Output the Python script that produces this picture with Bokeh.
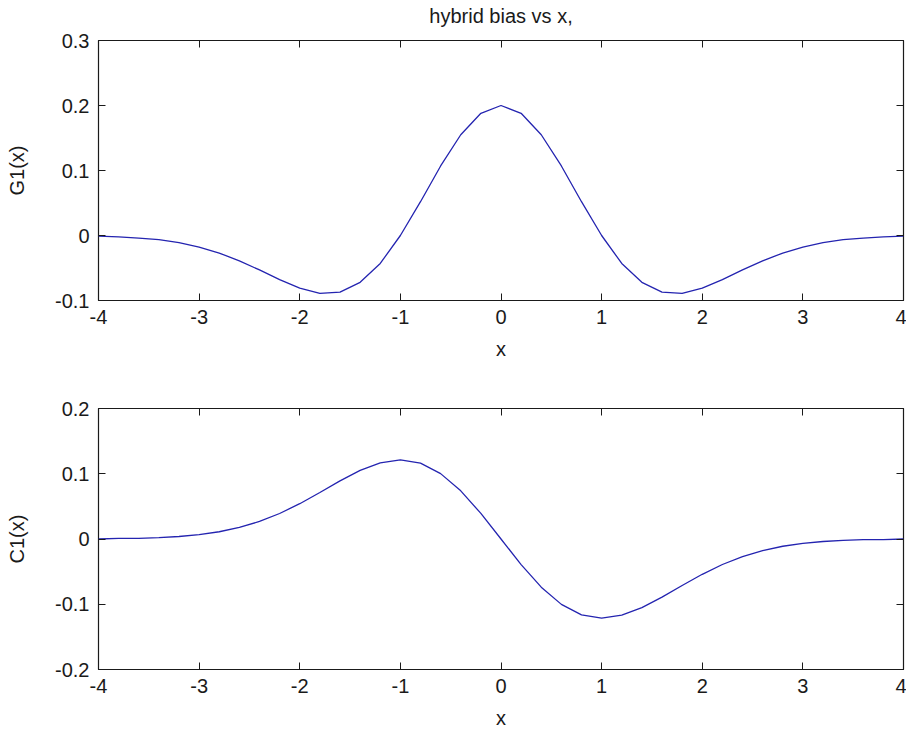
from bokeh.plotting import figure
from bokeh.layouts import column
from bokeh.models import LinearAxis, FixedTicker, Range1d
from bokeh.embed import file_html
from bokeh.resources import INLINE

# sample positions
x_vals = [-4.0, -3.8, -3.6, -3.4, -3.2, -3.0, -2.8, -2.6, -2.4, -2.2, -2.0,
          -1.8, -1.6, -1.4, -1.2, -1.0, -0.8, -0.6, -0.4, -0.2, 0.0,
          0.2, 0.4, 0.6, 0.8, 1.0, 1.2, 1.4, 1.6, 1.8, 2.0,
          2.2, 2.4, 2.6, 2.8, 3.0, 3.2, 3.4, 3.6, 3.8, 4.0]

# G1(x): symmetric bias term
g1_vals = [-0.001, -0.002, -0.004, -0.0065, -0.011, -0.018, -0.027, -0.039, -0.053, -0.068, -0.081,
           -0.089, -0.087, -0.072, -0.043, 0.000, 0.052, 0.107, 0.155, 0.188, 0.200,
           0.188, 0.155, 0.107, 0.052, 0.000, -0.043, -0.072, -0.087, -0.089, -0.081,
           -0.068, -0.053, -0.039, -0.027, -0.018, -0.011, -0.0065, -0.004, -0.002, -0.001]

# C1(x): antisymmetric bias term
c1_vals = [0.000, 0.001, 0.0011, 0.0021, 0.0038, 0.0067, 0.0111, 0.0177, 0.0269, 0.0391, 0.0541,
           0.0712, 0.089, 0.1051, 0.1168, 0.1213, 0.1162, 0.1002, 0.0738, 0.0392, 0.000,
           -0.0392, -0.0738, -0.1002, -0.1162, -0.1213, -0.1168, -0.1051, -0.089, -0.0712, -0.0541,
           -0.0391, -0.0269, -0.0177, -0.0111, -0.0067, -0.0038, -0.0021, -0.0011, -0.001, 0.000]

x_ticks = [-4, -3, -2, -1, 0, 1, 2, 3, 4]
x_tick_labels = ["-4", "-3", "-2", "-1", "0", "1", "2", "3", "4"]
g1_ticks = [-0.1, 0.0, 0.1, 0.2, 0.3]
g1_tick_labels = ["-0.1", "0", "0.1", "0.2", "0.3"]
c1_ticks = [-0.2, -0.1, 0.0, 0.1, 0.2]
c1_tick_labels = ["-0.2", "-0.1", "0", "0.1", "0.2"]

TITLE = "hybrid bias vs x,"
FONT = "Liberation Sans"
FS = "20px"
LINE_COLOR = "#2424b0"
INK = "#1a1a1a"


def style_axis(ax, ticks, labels, show_labels=True):
    ax.ticker = FixedTicker(ticks=ticks)
    ax.major_tick_in = 7
    ax.major_tick_out = 0
    ax.minor_tick_in = 0
    ax.minor_tick_out = 0
    ax.major_tick_line_color = INK
    ax.axis_line_color = None
    ax.major_label_text_font = FONT
    if show_labels:
        ax.major_label_overrides = {t: s for t, s in zip(ticks, labels)}
        ax.major_label_text_font_size = FS
        ax.major_label_text_color = INK
        ax.major_label_standoff = 9
    else:
        # mirrored box ticks only, no numbers
        ax.major_label_text_font_size = "1px"
        ax.major_label_text_color = None
        ax.major_label_standoff = 0
    ax.axis_label_text_font = FONT
    ax.axis_label_text_font_size = FS
    ax.axis_label_text_font_style = "normal"
    ax.axis_label_text_color = INK


def make_panel(y_vals, y_range, y_ticks, y_labels, y_name, title, height,
               top_border, bottom_border):
    p = figure(width=906, height=height, output_backend="svg",
               toolbar_location=None,
               x_range=Range1d(-4, 4), y_range=Range1d(*y_range),
               min_border_left=98, min_border_right=3,
               min_border_top=top_border, min_border_bottom=bottom_border)
    p.background_fill_color = "white"
    p.border_fill_color = "white"
    p.outline_line_color = INK
    p.outline_line_width = 1.2
    p.grid.visible = False

    style_axis(p.xaxis[0], x_ticks, x_tick_labels)
    p.xaxis[0].axis_label = "x"
    p.xaxis[0].axis_label_standoff = 11
    style_axis(p.yaxis[0], y_ticks, y_labels)
    p.yaxis[0].axis_label = y_name
    p.yaxis[0].axis_label_standoff = 24

    # upper box edge: ticks only, and the panel heading above it
    top_ax = LinearAxis()
    style_axis(top_ax, x_ticks, x_tick_labels, show_labels=False)
    if title:
        top_ax.axis_label = title
        top_ax.axis_label_standoff = 14
    p.add_layout(top_ax, "above")
    right_ax = LinearAxis()
    style_axis(right_ax, y_ticks, y_labels, show_labels=False)
    p.add_layout(right_ax, "right")

    p.line(x_vals, y_vals, line_color=LINE_COLOR, line_width=1.3)
    return p


top = make_panel(g1_vals, (-0.1, 0.3), g1_ticks, g1_tick_labels, "G1(x)",
                 TITLE, 370, 40, 70)
bottom = make_panel(c1_vals, (-0.2, 0.2), c1_ticks, c1_tick_labels, "C1(x)",
                    None, 366, 38, 67)

layout = column(top, bottom, spacing=0)
open("out.html", "w").write(file_html(layout, INLINE))
